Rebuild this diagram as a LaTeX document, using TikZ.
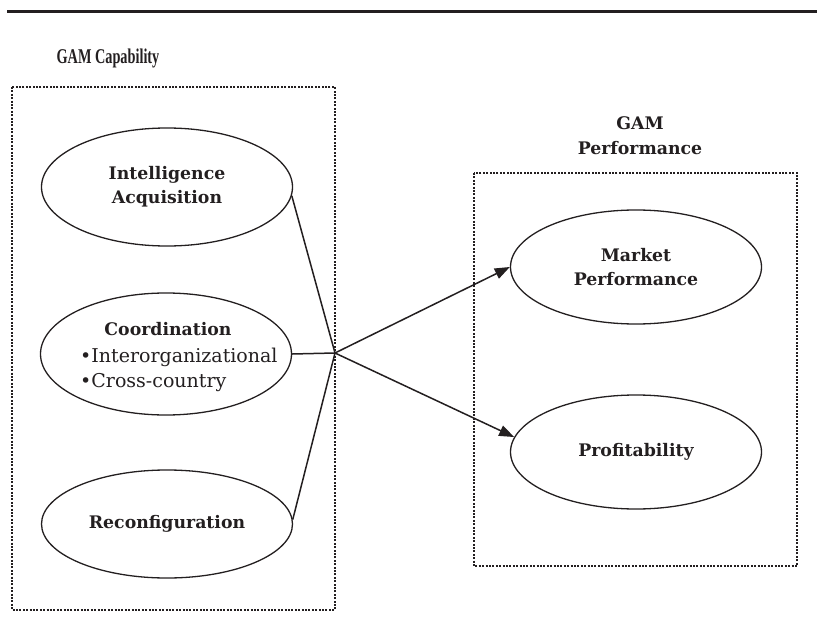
\documentclass[tikz,border=0pt]{standalone}
\usepackage{fontspec}
\setmainfont{DejaVu Serif}
\newfontfamily\titlefont{Liberation Serif}
\usetikzlibrary{arrows.meta,shapes.geometric}
\definecolor{ink}{HTML}{231F20}
\tikzset{
  dotbox/.style={draw=ink,line width=2.2pt,dash pattern=on 2pt off 1.4pt},
  construct/.style={draw=ink,ellipse,line width=1.3pt,inner sep=0pt,minimum width=251pt,minimum height=118pt,align=center,font=\fontsize{17.3}{24}\selectfont\bfseries,text=ink},
  link/.style={draw=ink,line width=1.5pt},
  arrowlink/.style={link,-{Triangle[length=15pt,width=11pt]}},
  title/.style={text=ink,align=center,font=\fontsize{17.3}{25}\selectfont\bfseries},
  plain/.style={text=ink,font=\fontsize{19}{25}\selectfont,inner sep=0pt}
}
\begin{document}
\begin{tikzpicture}[x=1pt,y=-1pt]
\useasboundingbox (0,0) rectangle (817,642);
\draw[ink,line width=3pt] (7,11.5) -- (817,11.5);
% titles
\node[text=ink,font=\titlefont\fontsize{21}{24}\selectfont\bfseries,xscale=0.68,transform shape] (capt) at (108,58) {GAM Capability};
\node[title] (perft) at (640,136) {GAM\\Performance};
% boxes
\draw[dotbox] (12,87) rectangle (335,610);
\draw[dotbox] (474,173) rectangle (797,566);
% left constructs
\node[construct] (intel) at (167,187) {Intelligence\\Acquisition};
\node[construct,minimum height=122pt] (coord) at (166,354) {};
\node[text=ink,font=\fontsize{17.3}{24}\selectfont\bfseries,inner sep=0pt,anchor=base] (coordt) at (168,335) {Coordination};
\node[plain,anchor=base west] (inter) at (80,362) {•Interorganizational};
\node[plain,anchor=base west] (cross) at (80,387) {•Cross-country};
\node[construct,minimum height=108pt] (reconf) at (167,524) {Reconfiguration};
% right constructs
\node[construct,minimum height=114pt] (market) at (636,267) {Market\\Performance};
\node[construct,minimum height=114pt] (profit) at (636,452) {Profitability};
% connectors
\coordinate (J) at (335,353);
\draw[link] (intel.-4) -- (J);
\draw[link] (coord.east) -- (J);
\draw[link] (reconf.2) -- (J);
\draw[arrowlink] (J) -- (market.west);
\draw[arrowlink] (J) -- (profit.173);
\end{tikzpicture}
\end{document}
